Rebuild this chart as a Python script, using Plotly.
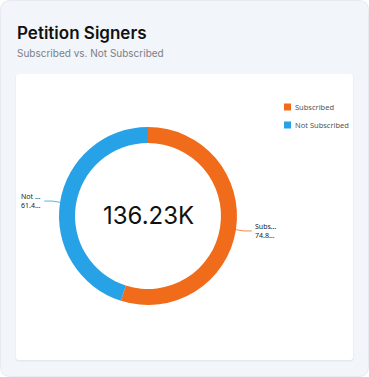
import math
import plotly.graph_objects as go

# ---- data ----
categories = ["Subscribed", "Not Subscribed"]
values = [74820, 61410]
colors = ["#F06C1B", "#27A2E6"]
title_text = "Petition Signers"
subtitle_text = "Subscribed vs. Not Subscribed"

W, H = 369, 377


def px(x):
    return x / W


def py(y):
    return 1 - y / H


def fmt_k(v):
    return f"{v / 1000:.2f}K"


def trunc(s, n=4):
    return s if len(s) <= n else s[:n] + "…"


total = sum(values)

# donut geometry (pixels)
cx, cy, R = 148, 216, 89
hole = 0.82

fig = go.Figure()

fig.add_trace(go.Pie(
    labels=categories,
    values=values,
    marker=dict(colors=colors, line=dict(width=0)),
    hole=hole,
    sort=False,
    direction="clockwise",
    rotation=0,
    textinfo="none",
    hoverinfo="label+value+percent",
    showlegend=False,
    domain=dict(x=[px(cx - R), px(cx + R)], y=[py(cy + R), py(cy - R)]),
))

shapes = []


def rrect(x0, y0, x1, y1, r):
    X = lambda v: px(v)
    Y = lambda v: py(v)
    return (f"M{X(x0 + r)},{Y(y0)} L{X(x1 - r)},{Y(y0)} "
            f"Q{X(x1)},{Y(y0)} {X(x1)},{Y(y0 + r)} "
            f"L{X(x1)},{Y(y1 - r)} Q{X(x1)},{Y(y1)} {X(x1 - r)},{Y(y1)} "
            f"L{X(x0 + r)},{Y(y1)} Q{X(x0)},{Y(y1)} {X(x0)},{Y(y1 - r)} "
            f"L{X(x0)},{Y(y0 + r)} Q{X(x0)},{Y(y0)} {X(x0 + r)},{Y(y0)} Z")


# outer card
shapes.append(dict(type="path", xref="paper", yref="paper", layer="below",
                   path=rrect(0.5, 0.5, 368.5, 376.5, 10),
                   fillcolor="#F2F5F9", line=dict(color="#E6EBF1", width=1)))
# inner card shadow
shapes.append(dict(type="path", xref="paper", yref="paper", layer="below",
                   path=rrect(15.5, 74.5, 353.5, 361.5, 3),
                   fillcolor="#E3E8EF", line=dict(width=0)))
# inner card
shapes.append(dict(type="path", xref="paper", yref="paper", layer="below",
                   path=rrect(16, 74, 353, 360, 3),
                   fillcolor="#FFFFFF", line=dict(width=0)))

annotations = [
    dict(text=title_text, x=px(15), y=py(33), xref="paper", yref="paper",
         xanchor="left", yanchor="middle", showarrow=False,
         font=dict(family="Inter", size=17, color="#111111", weight=600)),
    dict(text=subtitle_text, x=px(15), y=py(53), xref="paper", yref="paper",
         xanchor="left", yanchor="middle", showarrow=False,
         font=dict(family="Inter", size=10, color="#7A7F87")),
    dict(text=fmt_k(total), x=px(cx), y=py(cy - 1), xref="paper", yref="paper",
         xanchor="center", yanchor="middle", showarrow=False,
         font=dict(family="Inter", size=24, color="#111111")),
]

# legend (swatches + text), one row per category
leg_x, leg_y, leg_step, sw = 284, 107, 18, 7
for i, (cat, col) in enumerate(zip(categories, colors)):
    yy = leg_y + i * leg_step
    shapes.append(dict(type="rect", xref="paper", yref="paper",
                       x0=px(leg_x), x1=px(leg_x + sw),
                       y0=py(yy + sw / 2), y1=py(yy - sw / 2),
                       fillcolor=col, line=dict(width=0)))
    annotations.append(dict(text=cat, x=px(leg_x + sw + 2), y=py(yy),
                            xref="paper", yref="paper", xanchor="left",
                            yanchor="middle", showarrow=False,
                            font=dict(family="Noto Sans", size=7.5, color="#555555")))

# outside labels with leader lines, placed from slice angles
cum = 0
for cat, val, col in zip(categories, values, colors):
    mid = (cum + val / 2) / total
    cum += val
    ang = 2 * math.pi * mid
    sx, sy = math.sin(ang), -math.cos(ang)
    x0, y0 = cx + R * sx, cy + R * sy
    x1, y1 = cx + (R + 8) * sx, cy + (R + 8) * sy
    side = 1 if sx >= 0 else -1
    x2 = x1 + side * 8
    shapes.append(dict(type="path", xref="paper", yref="paper",
                       path=f"M{px(x0)},{py(y0)} L{px(x1)},{py(y1)} L{px(x2)},{py(y1)}",
                       line=dict(color=col, width=0.8)))
    label = trunc(cat) + "<br>" + trunc(fmt_k(val))
    annotations.append(dict(
        text=label, x=px(x2 + side * 1), y=py(y1), xref="paper", yref="paper",
        xanchor="left" if side > 0 else "right", yanchor="middle",
        align="left", showarrow=False,
        font=dict(family="Noto Sans", size=7, color="#222222")))

fig.update_layout(
    width=W, height=H,
    autosize=False,
    margin=dict(l=0, r=0, t=0, b=0),
    paper_bgcolor="#FFFFFF",
    showlegend=False,
    shapes=shapes,
    annotations=annotations,
    font=dict(family="Inter"),
)

fig.write_html(
    "out.html",
    config={"responsive": False, "displayModeBar": False},
    post_script="document.body.style.margin='0';document.body.style.overflow='hidden';",
)
